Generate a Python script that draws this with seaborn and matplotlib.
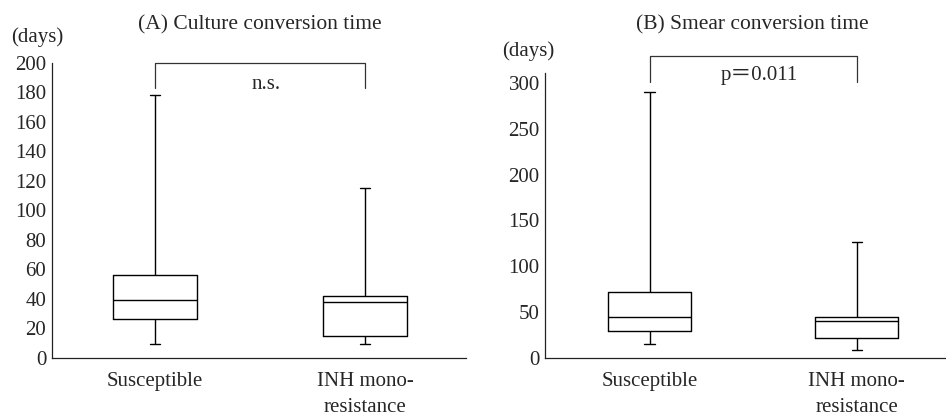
import pandas as pd
import matplotlib
matplotlib.use("Agg")
import matplotlib.pyplot as plt
import seaborn as sns

# five-number summaries: min, Q1, median, Q3, max (days)
groups = ["Susceptible", "INH mono-\nresistance"]
culture_susceptible = [9, 26, 39, 56, 178]
culture_inh = [9, 15, 38, 42, 115]
smear_susceptible = [15, 29.5, 44, 72, 290]
smear_inh = [8.5, 22, 40.5, 44, 126]

culture_ticks = list(range(0, 201, 20))
smear_ticks = list(range(0, 301, 50))


def long_frame(first, second):
    return pd.DataFrame({
        "group": [groups[0]] * len(first) + [groups[1]] * len(second),
        "days": first + second,
    })


def draw_panel(ax, df, ticks, ylim, xlim, bracket, label, label_y):
    # whis=(0, 100) so whiskers run to min / max of the five values
    sns.boxplot(data=df, x="group", y="days", order=groups, whis=(0, 100),
                width=0.4, fill=False, color="black", linecolor="black",
                linewidth=1.0, capwidths=0.05, ax=ax)
    ax.set_xlim(*xlim)
    ax.set_ylim(*ylim)
    ax.set_yticks(ticks)
    ax.set_xlabel("")
    ax.set_ylabel("")
    ax.tick_params(axis="both", length=0, labelsize=15)
    ax.tick_params(axis="y", pad=4)
    ax.tick_params(axis="x", pad=10)
    for lbl in ax.get_xticklabels():
        lbl.set_linespacing(1.5)
    sns.despine(ax=ax)
    for side in ["left", "bottom"]:
        ax.spines[side].set_linewidth(0.9)
        ax.spines[side].set_color("#222222")
    low, high = bracket
    ax.plot([0, 0, 1, 1], [low, high, high, low], color="#333333",
            lw=0.9, clip_on=False)
    ax.text(0.53, label_y, label, ha="center", va="center", fontsize=15,
            family=["Liberation Serif", "Noto Sans CJK JP"])


sns.set_style("white")
plt.rcParams["font.family"] = ["Liberation Serif", "DejaVu Serif"]

fig = plt.figure(figsize=(9.46, 4.15), dpi=100)
ax_a = fig.add_axes([0.0547, 0.138, 0.438, 0.711])
ax_b = fig.add_axes([0.5764, 0.138, 0.4236, 0.6856])

draw_panel(ax_a, long_frame(culture_susceptible, culture_inh), culture_ticks,
           (0, 200), (-0.49, 1.48), (182.5, 200), "n.s.", 185)
draw_panel(ax_b, long_frame(smear_susceptible, smear_inh), smear_ticks,
           (0, 311), (-0.503, 1.43), (301, 330), "p\uff1d0.011", 309)

fig.text(260 / 946, 1 - 25 / 415, "(A) Culture conversion time",
         ha="center", va="center", fontsize=15.5)
fig.text(752 / 946, 1 - 25 / 415, "(B) Smear conversion time",
         ha="center", va="center", fontsize=15.5)
fig.text(37 / 946, 1 - 37 / 415, "(days)", ha="center", va="center", fontsize=15)
fig.text(528 / 946, 1 - 50.7 / 415, "(days)", ha="center", va="center", fontsize=15)

fig.savefig("out.png", dpi=100)
